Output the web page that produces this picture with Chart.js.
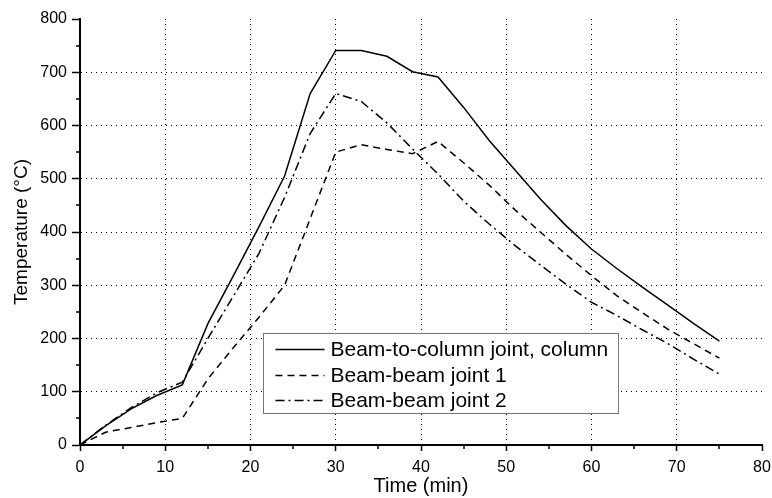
<!DOCTYPE html>
<html>
<head>
<meta charset="utf-8">
<script src="https://cdn.jsdelivr.net/npm/chart.js@4.4.1/dist/chart.umd.min.js"></script>
<style>
  html, body { margin: 0; padding: 0; background: #fff; }
  #wrap { width: 772px; height: 498px; }
</style>
</head>
<body>
<div id="wrap"><canvas id="temp"></canvas></div>
<script>
// time in minutes, temperatures in degC
var timeMin    = [0, 3, 6, 9, 12, 15, 18, 21, 24, 27, 30, 33, 36, 39, 42, 45, 48, 51, 54, 57, 60, 63, 66, 69, 72, 75];
var beamColumn = [0, 36, 68, 93, 113, 228, 318, 410, 505, 660, 741, 741, 730, 701, 691, 634, 572, 517, 462, 412, 368, 331, 296, 262, 228, 195];
var beamBeam1  = [0, 24, 33, 42, 50, 124, 183, 240, 300, 425, 550, 564, 555, 547, 570, 530, 488, 442, 400, 358, 318, 280, 248, 217, 190, 163];
var beamBeam2  = [0, 37, 70, 98, 118, 200, 280, 360, 465, 585, 660, 645, 605, 556, 509, 458, 415, 375, 338, 302, 268, 243, 216, 190, 161, 133];
var seriesNames = ['Beam-to-column joint, column', 'Beam-beam joint 1', 'Beam-beam joint 2'];
var xMinor = [5, 15, 25, 35, 45, 55, 65, 75];
var yMinor = [50, 150, 250, 350, 450, 550, 650, 750];

var FONT = 'Liberation Sans, Arial, sans-serif';

function toPoints(vals){
	return timeMin.map(function(t, i){ return {x: t, y: vals[i]}; });
}

function gridColor(max){
	return function(c){
		var v = c.tick ? c.tick.value : 0;
		return (v > 0 && v < max) ? '#000' : 'rgba(0,0,0,0)';
	};
}

// short ticks at the half steps
var minorTicks = {
	id: 'minorTicks',
	afterDraw: function(chart){
		var ctx = chart.ctx, xs = chart.scales.x, ys = chart.scales.y;
		ctx.save();
		ctx.strokeStyle = '#000';
		ctx.lineWidth = 1.5;
		ctx.beginPath();
		xMinor.forEach(function(v){
			var px = Math.round(xs.getPixelForValue(v));
			ctx.moveTo(px, xs.top);
			ctx.lineTo(px, xs.top + 4);
		});
		yMinor.forEach(function(v){
			var py = Math.round(ys.getPixelForValue(v));
			ctx.moveTo(ys.right, py);
			ctx.lineTo(ys.right - 4, py);
		});
		ctx.stroke();
		ctx.restore();
	}
};

// boxed legend sitting inside the plot
var boxLegend = {
	id: 'boxLegend',
	afterDraw: function(chart){
		var ctx = chart.ctx;
		var bx = 263.5, by = 333.5, bw = 355, bh = 80, row = 25.5;
		ctx.save();
		ctx.fillStyle = '#fff';
		ctx.fillRect(bx, by, bw, bh);
		ctx.strokeStyle = '#777';
		ctx.lineWidth = 1;
		ctx.strokeRect(bx, by, bw, bh);
		ctx.font = '21px ' + FONT;
		ctx.textBaseline = 'middle';
		chart.data.datasets.forEach(function(ds, i){
			var cy = Math.round(by + 15.5 + i * row) + 0.5;
			ctx.strokeStyle = ds.borderColor;
			ctx.lineWidth = ds.borderWidth;
			ctx.setLineDash(ds.borderDash || []);
			ctx.beginPath();
			ctx.moveTo(bx + 12, cy);
			ctx.lineTo(bx + 61, cy);
			ctx.stroke();
			ctx.setLineDash([]);
			ctx.fillStyle = '#000';
			ctx.fillText(ds.label, bx + 67, cy + 1);
		});
		ctx.restore();
	}
};

var cfg = {
	type: 'line',
	data: {
		datasets: [
			{label: seriesNames[0], data: toPoints(beamColumn), borderColor: '#000', borderWidth: 1.5, borderDash: []},
			{label: seriesNames[1], data: toPoints(beamBeam1), borderColor: '#000', borderWidth: 1.5, borderDash: [7, 5]},
			{label: seriesNames[2], data: toPoints(beamBeam2), borderColor: '#000', borderWidth: 1.5, borderDash: [9, 4, 2, 4]}
		]
	},
	options: {
		responsive: true,
		maintainAspectRatio: false,
		animation: false,
		layout: {padding: {top: 19, right: 0, left: 0, bottom: 0}},
		elements: {point: {radius: 0}, line: {tension: 0}},
		plugins: {legend: {display: false}, tooltip: {enabled: false}},
		scales: {
			x: {
				type: 'linear', min: 0, max: 80,
				ticks: {stepSize: 10, color: '#000', font: {family: FONT, size: 16}, padding: 7, maxRotation: 0},
				grid: {color: gridColor(80), lineWidth: 1, tickColor: '#000', tickLength: 6, tickWidth: 1.5},
				border: {display: true, color: '#000', width: 2, dash: [1, 4]},
				title: {display: true, text: 'Time (min)', color: '#000', font: {family: FONT, size: 20}, padding: 0},
				afterFit: function(s){ s.height = 53; s.paddingLeft = 0; s.paddingRight = 10; }
			},
			y: {
				min: 0, max: 800,
				ticks: {stepSize: 100, color: '#000', font: {family: FONT, size: 16}, padding: 5},
				grid: {color: gridColor(800), lineWidth: 1, tickColor: '#000', tickLength: 8, tickWidth: 1.5},
				border: {display: true, color: '#000', width: 2, dash: [1, 4]},
				title: {display: true, text: 'Temperature (°C)', color: '#000', font: {family: FONT, size: 19}, padding: {top: 10, bottom: 0}},
				afterFit: function(s){ s.width = 80; }
			}
		}
	},
	plugins: [minorTicks, boxLegend]
};

var TempChart = new Chart(document.getElementById('temp').getContext('2d'), cfg);
</script>
</body>
</html>
